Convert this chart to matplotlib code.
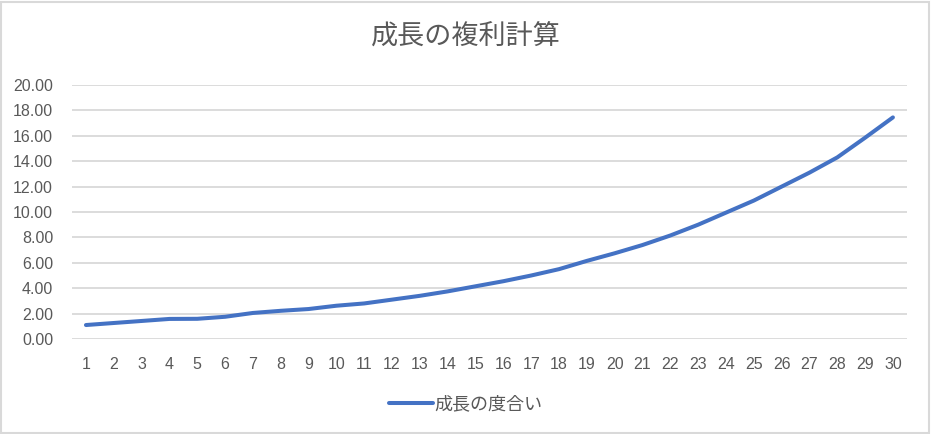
"""Excel-style compound growth line chart."""

import matplotlib

matplotlib.use("Agg")
import matplotlib.pyplot as plt
from matplotlib.patches import Rectangle
from matplotlib.ticker import FormatStrFormatter

plt.rcParams["font.family"] = ["Noto Sans CJK JP", "DejaVu Sans"]

TITLE = "成長の複利計算"
SERIES_NAME = "成長の度合い"
periods = list(range(1, 31))
growth = [
    1.10, 1.26, 1.42, 1.58, 1.59, 1.75, 2.05, 2.22, 2.36, 2.62,
    2.80, 3.10, 3.40, 3.75, 4.15, 4.55, 5.00, 5.50, 6.15, 6.75,
    7.40, 8.15, 9.00, 9.95, 10.90, 12.00, 13.10, 14.30, 15.85, 17.45,
]
y_ticks = [0, 2, 4, 6, 8, 10, 12, 14, 16, 18, 20]

LINE_COLOR = "#4472C4"
TEXT_COLOR = "#595959"
GRID_COLOR = "#D9D9D9"

fig = plt.figure(figsize=(9.32, 4.34), dpi=100)
fig.patch.set_facecolor("white")
fig.patches.append(
    Rectangle((0.0015, 0.003), 0.995, 0.993, transform=fig.transFigure,
              fill=False, edgecolor=GRID_COLOR, linewidth=1.5)
)

ax = fig.add_axes([0.0773, 0.2189, 0.8957, 0.5852])
ax.plot(periods, growth, color=LINE_COLOR, linewidth=2.9,
        solid_capstyle="round", solid_joinstyle="round", label=SERIES_NAME)

ax.set_xlim(0.5, 30.5)
ax.set_ylim(0, 20)
ax.set_yticks(y_ticks)
ax.set_xticks(periods)
ax.yaxis.set_major_formatter(FormatStrFormatter("%.2f"))
ax.grid(axis="y", color=GRID_COLOR, linewidth=1.3)
ax.set_axisbelow(True)
for spine in ax.spines.values():
    spine.set_visible(False)
ax.tick_params(axis="both", length=0, labelsize=11.5, labelcolor=TEXT_COLOR)
ax.tick_params(axis="y", pad=13.7)
ax.tick_params(axis="x", pad=13)
for label in ax.get_xticklabels() + ax.get_yticklabels():
    label.set_family(["Liberation Sans", "DejaVu Sans"])

fig.text(0.5, 0.915, TITLE, ha="center", va="center", fontsize=19.5, color=TEXT_COLOR)

fig.legend(loc="center", bbox_to_anchor=(0.5, 0.068), frameon=False,
           fontsize=13, labelcolor=TEXT_COLOR, handlelength=2.4,
           handletextpad=0.1)

fig.savefig("out.png", dpi=100)
